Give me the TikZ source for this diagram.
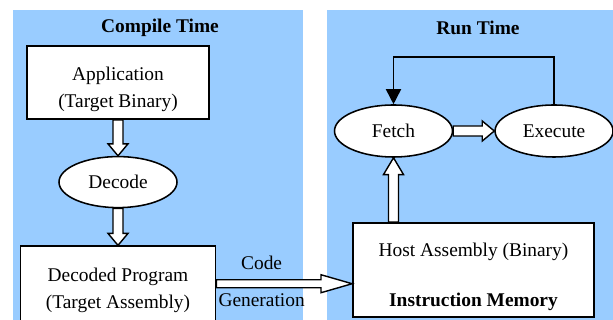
\documentclass[tikz,border=0pt]{standalone}
\usepackage{fontspec}
\setmainfont{Liberation Serif}
\usepackage{tikz}
\usetikzlibrary{shapes.geometric, arrows.meta, positioning, calc}
\definecolor{panelBlue}{RGB}{153, 204, 255}

% sizes of the hollow block arrows
\tikzset{
  shaft/.store in=\shafthalf, shaft=0.125cm,
  headw/.store in=\headhalf, headw=0.25cm,
  headlen/.store in=\headlen, headlen=0.3cm,
}
% extra room above the first line of a box
\newcommand{\boxtop}{\rule{0pt}{19pt}}

\begin{document}
\begin{tikzpicture}[
  font=\fontsize{13.8}{19.2}\selectfont,
  node distance=0.9cm and 1.025cm,
  box/.style={rectangle, draw, line width=1.2pt, fill=white, align=center},
  oval/.style={ellipse, draw, line width=1.1pt, fill=white,
               minimum width=2.95cm, minimum height=1.3cm, inner sep=0pt},
  panel/.style={fill=panelBlue, draw=none},
  title/.style={font=\fontsize{13.8}{16.5}\selectfont\bfseries},
  hollow/.style={draw, fill=white, line width=1pt, line join=miter,
    to path={
      ($(\tikztostart)!\shafthalf!90:(\tikztotarget)$)
      -- ($(\tikztotarget)!\headlen!(\tikztostart)!\shafthalf!90:(\tikztotarget)$)
      -- ($(\tikztotarget)!\headlen!(\tikztostart)!\headhalf!90:(\tikztotarget)$)
      -- (\tikztotarget)
      -- ($(\tikztotarget)!\headlen!(\tikztostart)!\headhalf!-90:(\tikztotarget)$)
      -- ($(\tikztotarget)!\headlen!(\tikztostart)!\shafthalf!-90:(\tikztotarget)$)
      -- ($(\tikztostart)!\shafthalf!-90:(\tikztotarget)$)
      -- cycle}},
  loop/.style={-{Triangle[length=0.38cm, width=0.38cm]}, line width=1.1pt},
]
  \useasboundingbox (0,0) rectangle (15.325,8);

  % the two phases
  \fill[panel] (0.325,0) rectangle (7.575,7.75);
  \fill[panel] (8.175,0) rectangle (15.325,7.75);
  \node[title] (ctitle) at (4.0,7.3) {Compile Time};
  \node[title] (rtitle) at (11.95,7.3) {Run Time};

  % compile time
  \node[box, minimum width=4.55cm, minimum height=1.825cm] (app) at (2.95,5.9375)
    {\boxtop Application\\(Target Binary)};
  \node[oval, minimum height=1.275cm, below=0.9cm of app] (dec) {Decode};
  \node[box, minimum width=4.875cm, minimum height=1.875cm, below=0.925cm of dec]
    (decoded) {\boxtop Decoded Program\\(Target Assembly)};

  \draw[hollow] (app.south) to (dec.north);
  \draw[hollow] (dec.south) to (decoded.north);

  % run time
  \node[oval] (fetch) at (9.8375,4.725) {Fetch};
  \node[oval, right=of fetch] (exec) {Execute};
  \node[box, minimum width=6.025cm, minimum height=2.35cm] (host) at (11.8375,1.25)
    {\boxtop Host Assembly (Binary)\\[16pt]\textbf{Instruction Memory}};
  \coordinate (looptop) at (0,6.575);

  \draw[hollow] (fetch.east) to (exec.west);
  \draw[hollow, headlen=0.42cm] (host.north -| fetch.south) to (fetch.south);
  \draw[loop] (exec.north) -- (exec.north |- looptop) -| (fetch.north);

  % code generation
  \draw[hollow, shaft=0.1cm, headw=0.225cm, headlen=0.78cm]
    (decoded.east) to (decoded.east -| host.west);
  \node (code) at (6.54,1.425) {Code};
  \node (gen) at (6.54,0.5) {Generation};
\end{tikzpicture}
\end{document}
